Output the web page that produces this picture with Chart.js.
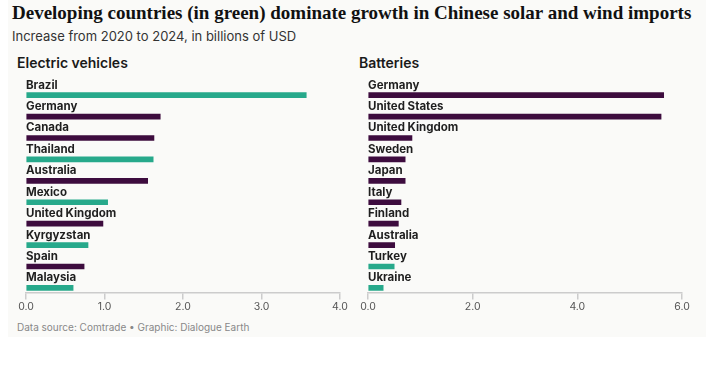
<!DOCTYPE html>
<html>
<head>
<meta charset="utf-8">
<script src="https://cdn.jsdelivr.net/npm/chart.js@4.4.1/dist/chart.umd.min.js"></script>
<style>
  body { margin: 0; background: #fff; width: 717px; height: 372px; overflow: hidden; position: relative; font-family: Inter, sans-serif; }
  #panel { position: absolute; left: 8px; top: 0; width: 698px; height: 337px; background: #fafaf8; }
  .t { position: absolute; white-space: nowrap; }
  #title { left: 12px; top: 2px; font: bold 19px "Liberation Serif", serif; color: #111; }
  #sub { left: 12px; top: 28px; font-size: 13px; color: #333; }
  .ptitle { top: 54px; font-size: 14px; font-weight: 600; color: #1a1a1a; }
  #foot { left: 17px; top: 321px; font-size: 10px; color: #888; }
  canvas { position: absolute; top: 70px; }
  #ev { left: 0; }
  #bat { left: 350px; }
</style>
</head>
<body>
<div id="panel"></div>
<div class="t" id="title">Developing countries (in green) dominate growth in Chinese solar and wind imports</div>
<div class="t" id="sub">Increase from 2020 to 2024, in billions of USD</div>
<div class="t ptitle" style="left:17px">Electric vehicles</div>
<div class="t ptitle" style="left:359px">Batteries</div>
<div class="t" id="foot">Data source: Comtrade • Graphic: Dialogue Earth</div>
<canvas id="ev" width="360" height="249"></canvas>
<canvas id="bat" width="367" height="249"></canvas>
<script>
const evCountries = ['Brazil', 'Germany', 'Canada', 'Thailand', 'Australia', 'Mexico', 'United Kingdom', 'Kyrgyzstan', 'Spain', 'Malaysia']
const evValues = [3.57, 1.71, 1.63, 1.62, 1.55, 1.04, 0.98, 0.79, 0.74, 0.60]
const evDeveloping = [true, false, false, true, false, true, false, true, false, true]
const evTicks = [0, 1, 2, 3, 4]

const batCountries = ['Germany', 'United States', 'United Kingdom', 'Sweden', 'Japan', 'Italy', 'Finland', 'Australia', 'Turkey', 'Ukraine']
const batValues = [5.65, 5.60, 0.84, 0.71, 0.71, 0.63, 0.58, 0.51, 0.50, 0.29]
const batDeveloping = [false, false, false, false, false, false, false, false, true, true]
const batTicks = [0, 2, 4, 6]

const GREEN = '#27a98b'
const PURPLE = '#3d0c3e'

const makeChart = (id, countries, values, developing, ticks, padding) => {
    const ctx = document.getElementById(id).getContext('2d')
    return new Chart(ctx, {
        type: 'bar',
        data: {
            datasets: [{
                data: values.map((v, i) => ({ x: v, y: i })),
                backgroundColor: developing.map(d => d ? GREEN : PURPLE),
                barThickness: 5
            }]
        },
        options: {
            indexAxis: 'y',
            responsive: false,
            animation: false,
            layout: { padding: padding },
            plugins: {
                legend: { display: false },
                tooltip: { enabled: false }
            },
            scales: {
                x: {
                    type: 'linear',
                    min: ticks[0],
                    max: ticks[ticks.length - 1],
                    afterBuildTicks: s => { s.ticks = ticks.map(v => ({ value: v })) },
                    ticks: {
                        callback: v => v.toFixed(1),
                        color: '#555',
                        padding: 1,
                        font: { family: 'Inter', size: 10.5 }
                    },
                    grid: { drawOnChartArea: false, tickLength: 7, color: '#ccc', lineWidth: 1.5 },
                    border: { color: '#ccc', width: 1.5 }
                },
                y: {
                    type: 'linear',
                    reverse: true,
                    offset: false,
                    min: -0.71,
                    max: 9.21,
                    afterBuildTicks: s => { s.ticks = countries.map((c, i) => ({ value: i })) },
                    ticks: {
                        mirror: true,
                        padding: 0,
                        labelOffset: -10,
                        callback: v => countries[v],
                        color: '#1f1f1f',
                        font: { family: 'Inter', size: 11.5, weight: '700' }
                    },
                    grid: { display: false, drawTicks: false },
                    border: { display: false }
                }
            }
        }
    })
}

makeChart('ev', evCountries, evValues, evDeveloping, evTicks, { left: 26, right: 20, top: 10, bottom: 5 })
makeChart('bat', batCountries, batValues, batDeveloping, batTicks, { left: 18, right: 35, top: 10, bottom: 5 })
</script>
</body>
</html>
